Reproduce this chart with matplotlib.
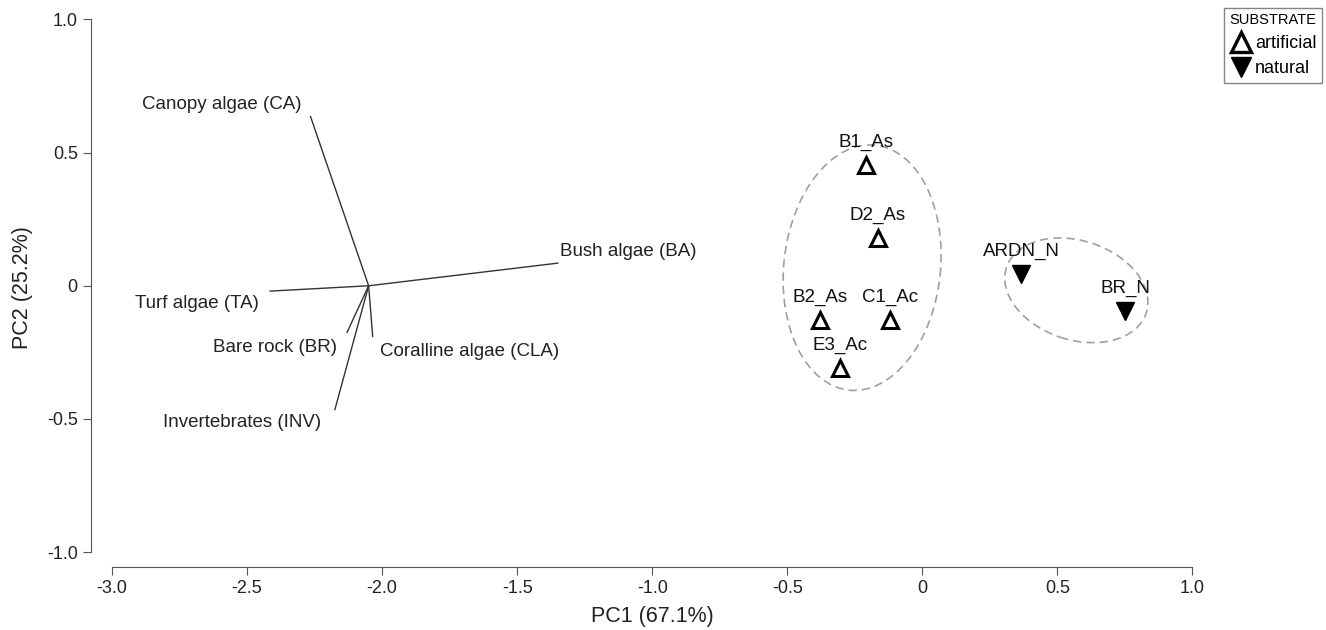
import matplotlib
matplotlib.use('Agg')
import matplotlib.pyplot as plt
from matplotlib.patches import Ellipse
from matplotlib.lines import Line2D

plt.rcParams['font.family'] = ['Liberation Sans', 'DejaVu Sans']

# sample scores
sites = ['B1_As', 'D2_As', 'B2_As', 'C1_Ac', 'E3_Ac', 'ARDN_N', 'BR_N']
substrate = ['artificial'] * 5 + ['natural'] * 2
pc1 = [-0.21, -0.165, -0.38, -0.12, -0.305, 0.365, 0.75]
pc2 = [0.455, 0.18, -0.13, -0.13, -0.31, 0.045, -0.095]

# variable vectors (drawn from a common origin)
origin = (-2.05, 0.0)
variables = ['Canopy algae (CA)', 'Bush algae (BA)', 'Turf algae (TA)',
             'Bare rock (BR)', 'Coralline algae (CLA)', 'Invertebrates (INV)']
var_x = [-2.265, -1.35, -2.415, -2.13, -2.035, -2.175]
var_y = [0.635, 0.085, -0.02, -0.175, -0.19, -0.465]
lab_x = [-2.595, -1.09, -2.685, -2.395, -1.678, -2.52]
lab_y = [0.68, 0.128, -0.068, -0.233, -0.248, -0.515]

# group ellipses: centre x, centre y, width, height, angle
ell_groups = ['artificial', 'natural']
ell_cx = [-0.223, 0.57]
ell_cy = [0.068, -0.017]
ell_w = [0.925, 0.545]
ell_h = [0.58, 0.372]
ell_ang = [84, -18.6]

xticks = [-3.0, -2.5, -2.0, -1.5, -1.0, -0.5, 0, 0.5, 1.0]
xtick_labels = ['-3.0', '-2.5', '-2.0', '-1.5', '-1.0', '-0.5', '0', '0.5', '1.0']
yticks = [-1.0, -0.5, 0, 0.5, 1.0]
ytick_labels = ['-1.0', '-0.5', '0', '0.5', '1.0']

fig = plt.figure(figsize=(13.26, 6.30), dpi=100)
ax = fig.add_axes([0.0686, 0.1, 0.847, 0.886])

# vectors
for vx, vy, lx, ly, name in zip(var_x, var_y, lab_x, lab_y, variables):
    ax.plot([origin[0], vx], [origin[1], vy], color='#333333', lw=1.0)
    ax.text(lx, ly, name, ha='center', va='center', fontsize=13.5, color='#222222')

# ellipses
for cx, cy, w, h, a in zip(ell_cx, ell_cy, ell_w, ell_h, ell_ang):
    ax.add_patch(Ellipse((cx, cy), w, h, angle=a, fill=False,
                         edgecolor='#a0a0a0', lw=1.2, linestyle=(0, (5, 3))))

# points
for x, y, s, sub in zip(pc1, pc2, sites, substrate):
    if sub == 'artificial':
        ax.plot(x, y, marker='^', ms=12, mfc='white', mec='black', mew=2.2, ls='none')
    else:
        ax.plot(x, y, marker='v', ms=13, mfc='black', mec='black', mew=1, ls='none')
    ax.text(x, y + 0.085, s, ha='center', va='center', fontsize=13.5,
            fontweight='medium', color='#111111')

ax.set_xlim(-3.078, 1.08)
ax.set_ylim(-1.056, 1.04)
ax.set_xticks(xticks)
ax.set_xticklabels(xtick_labels)
ax.set_yticks(yticks)
ax.set_yticklabels(ytick_labels)
ax.tick_params(labelsize=13, length=6, color='#555555', labelcolor='#222222')
for sp in ['top', 'right']:
    ax.spines[sp].set_visible(False)
ax.spines['left'].set_bounds(-1.0, 1.0)
ax.spines['bottom'].set_bounds(-3.0, 1.0)
for sp in ['left', 'bottom']:
    ax.spines[sp].set_color('#555555')
ax.set_xlabel('PC1 (67.1%)', fontsize=15.5, color='#222222', labelpad=6)
ax.set_ylabel('PC2 (25.2%)', fontsize=15.5, color='#222222', labelpad=10)

handles = [Line2D([], [], marker='^', ls='none', ms=14, mfc='white', mec='black', mew=2.4),
           Line2D([], [], marker='v', ls='none', ms=15, mfc='black', mec='black')]
leg = fig.legend(handles, ['artificial', 'natural'], title='SUBSTRATE',
                 loc='upper right', bbox_to_anchor=(0.997, 0.988),
                 fontsize=13, title_fontsize=10.5, frameon=True, fancybox=False,
                 edgecolor='#666666', handletextpad=0.2, borderpad=0.3,
                 labelspacing=0.45, handlelength=1.2, borderaxespad=0)

fig.savefig('out.png', dpi=100)
